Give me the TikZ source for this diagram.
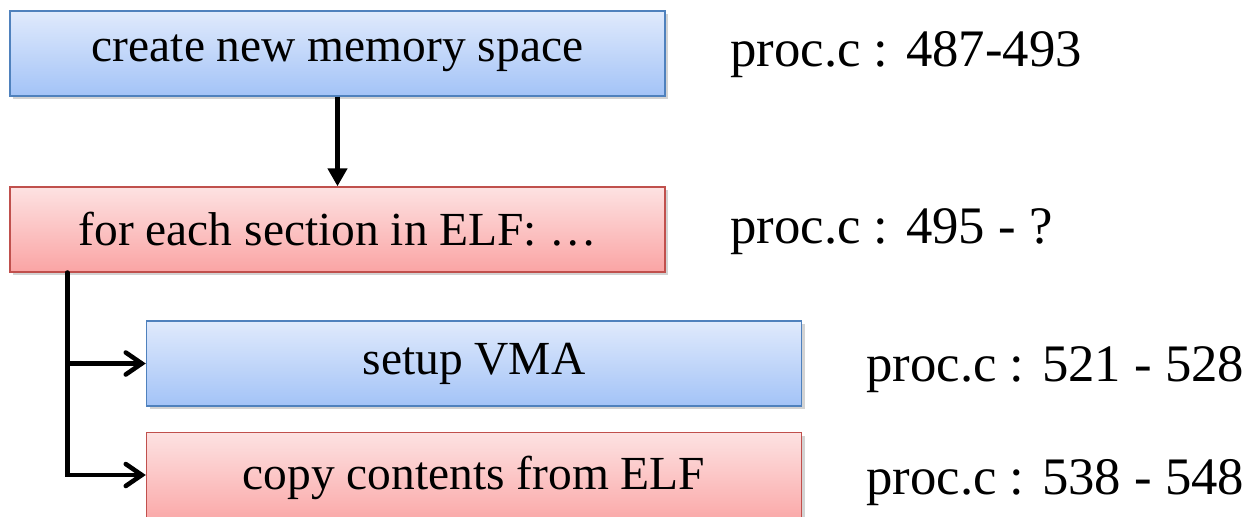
\documentclass[tikz,border=0pt]{standalone}
\usepackage{fontspec}
\setmainfont{Liberation Serif}
\usepackage{tikz}
\usetikzlibrary{shadows}
\usetikzlibrary{arrows.meta}
\usetikzlibrary{calc,positioning}

\definecolor{azulborda}{RGB}{79,129,189}
\definecolor{azulcima}{RGB}{224,234,252}
\definecolor{azulbaixo}{RGB}{163,195,247}
\definecolor{vermborda}{RGB}{192,80,77}
\definecolor{vermcima}{RGB}{253,226,226}
\definecolor{vermbaixo}{RGB}{250,164,164}

\begin{document}
\begin{tikzpicture}[
    caixa/.style={rectangle, minimum width=13.1cm, minimum height=1.7cm,
        line width=0.8pt, font=\fontsize{27}{32}\selectfont,
        drop shadow={shadow xshift=0.6mm, shadow yshift=-0.6mm, opacity=0.35}},
    azul/.style={caixa, draw=azulborda, top color=azulcima, bottom color=azulbaixo},
    verm/.style={caixa, draw=vermborda, top color=vermcima, bottom color=vermbaixo},
    rotulo/.style={anchor=west, inner sep=0pt, font=\fontsize{30}{36}\selectfont},
    seta/.style={line width=3pt, -{Triangle[length=3.6mm, width=3.8mm]}},
    ramo/.style={line width=2.6pt, line cap=round,
        -{Straight Barb[length=3.2mm, width=4.4mm, line cap=round]}}]

    \useasboundingbox (0,0) rectangle (24.98,-10.34);

    % caixas
    \node[azul] (mem) at (6.75,-1.07) {create new memory space};
    \node[verm] (sect) at (6.75,-4.59) {for each section in ELF: \dots};
    \node[azul] (vma) at (9.48,-7.27) {setup VMA};
    \node[verm] (copy) at (9.48,-9.6) [minimum height=1.9cm, text depth=0.3cm] {copy contents from ELF};

    % linhas do codigo
    \node[rotulo] (lmem) at (14.6,-1.1) {proc.c : 487-493};
    \node[rotulo] (lsect) at (14.6,-4.64) {proc.c : 495 - ?};
    \node[rotulo] (lvma) at (17.32,-7.4) {proc.c : 521 - 528};
    \node[rotulo] (lcopy) at (17.32,-9.66) {proc.c : 538 - 548};

    % setas
    \draw[seta] (mem) -- (sect);
    \coordinate (tronco) at ([xshift=1.16cm]sect.south west);
    \draw[ramo] (tronco) |- (vma.west);
    \draw[ramo] (tronco) |- ([yshift=0.1cm]copy.west);

\end{tikzpicture}
\end{document}
